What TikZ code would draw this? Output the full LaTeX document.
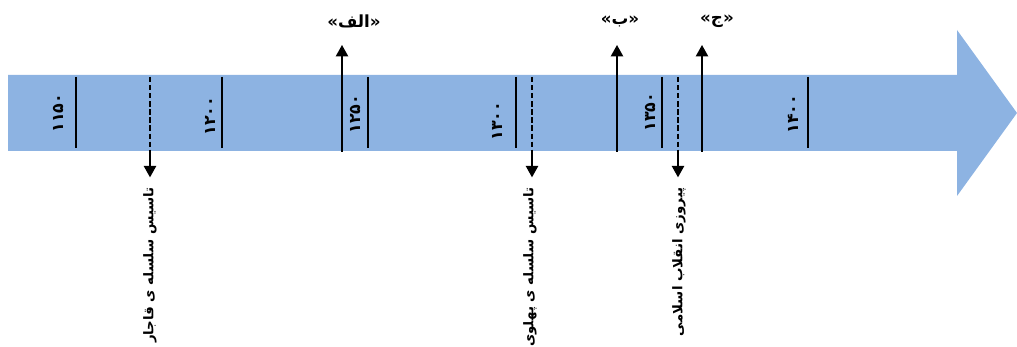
\documentclass[tikz,border=0pt]{standalone}
\usepackage{fontspec}
\newfontfamily\farsi[Script=Arabic]{DejaVu Sans}
\TeXXeTstate=1
\usetikzlibrary{arrows.meta}
\definecolor{bandblue}{RGB}{141,179,226}

\tikzset{
    year/.style={rotate=90, inner sep=0pt, font=\farsi\bfseries\fontsize{9}{9}\selectfont},
    event/.style={rotate=90, anchor=east, inner sep=0pt, font=\farsi\bfseries\fontsize{7.6}{8}\selectfont},
    letter/.style={inner sep=0pt, font=\farsi\bfseries\fontsize{9.5}{10}\selectfont},
    tick/.style={line width=0.9pt},
    dashline/.style={line width=0.6pt, dash pattern=on 3pt off 1.6pt},
    uparrow/.style={line width=0.9pt, -{Triangle[length=6.5pt, width=7pt]}},
    downarrow/.style={line width=0.9pt, -{Triangle[length=6.5pt, width=7pt]}}
}

\begin{document}
\begin{tikzpicture}[x=0.02cm, y=-0.02cm]
        \useasboundingbox (0,0) rectangle (1017,347);
        % BAND
        \fill[bandblue] (8,75) -- (957,75) -- (957,30) -- (1017,113) -- (957,196) -- (957,151) -- (8,151) -- cycle;

        % YEARS
        \draw[tick] (76,77) -- (76,148);
        \draw[tick] (222,77) -- (222,148);
        \draw[tick] (368,77) -- (368,148);
        \draw[tick] (516,77) -- (516,148);
        \draw[tick] (662,77) -- (662,148);
        \draw[tick] (808,77) -- (808,148);
        \node[year] (y1150) at (58,113) {۱۱۵۰};
        \node[year] (y1200) at (210,116) {۱۲۰۰};
        \node[year] (y1250) at (355,114) {۱۲۵۰};
        \node[year] (y1300) at (497,121) {۱۳۰۰};
        \node[year] (y1350) at (650,112) {۱۳۵۰};
        \node[year] (y1400) at (793,114) {۱۴۰۰};

        % EVENTS BELOW
        \coordinate (qtop) at (150,77);
        \coordinate (qbot) at (150,151);
        \node[event] (qajar) at (150,187) {\beginR تاسیس سلسله ی قاجار\endR};
        \draw[dashline] (qtop) -- (qbot);
        \draw[downarrow] (qbot) -- ([yshift=5.5pt]qajar.east -| qbot);

        \coordinate (ptop) at (532,77);
        \coordinate (pbot) at (532,151);
        \node[event] (pahlavi) at (530,187) {\beginR تاسیس سلسله ی پهلوی\endR};
        \draw[dashline] (ptop) -- (pbot);
        \draw[downarrow] (pbot) -- ([yshift=5.5pt]pahlavi.east -| pbot);

        \coordinate (etop) at (678,77);
        \coordinate (ebot) at (678,151);
        \node[event] (enghelab) at (679,187) {\beginR پیروزی انقلاب اسلامی\endR};
        \draw[dashline] (etop) -- (ebot);
        \draw[downarrow] (ebot) -- ([yshift=5.5pt]enghelab.east -| ebot);

        % LETTERS ABOVE
        \node[letter] (alef) at (354,21) {\beginR«الف»\endR};
        \node[letter] (be) at (620,21) {\beginR«ب»\endR};
        \node[letter] (jim) at (717,21) {\beginR«ج»\endR};
        \coordinate (abot) at (342,152);
        \coordinate (atip) at (342,45);
        \coordinate (bbot) at (617,152);
        \coordinate (btip) at (617,45);
        \coordinate (jbot) at (702,152);
        \coordinate (jtip) at (702,45);
        \draw[uparrow] (abot) -- (atip);
        \draw[uparrow] (bbot) -- (btip);
        \draw[uparrow] (jbot) -- (jtip);
\end{tikzpicture}
\end{document}
